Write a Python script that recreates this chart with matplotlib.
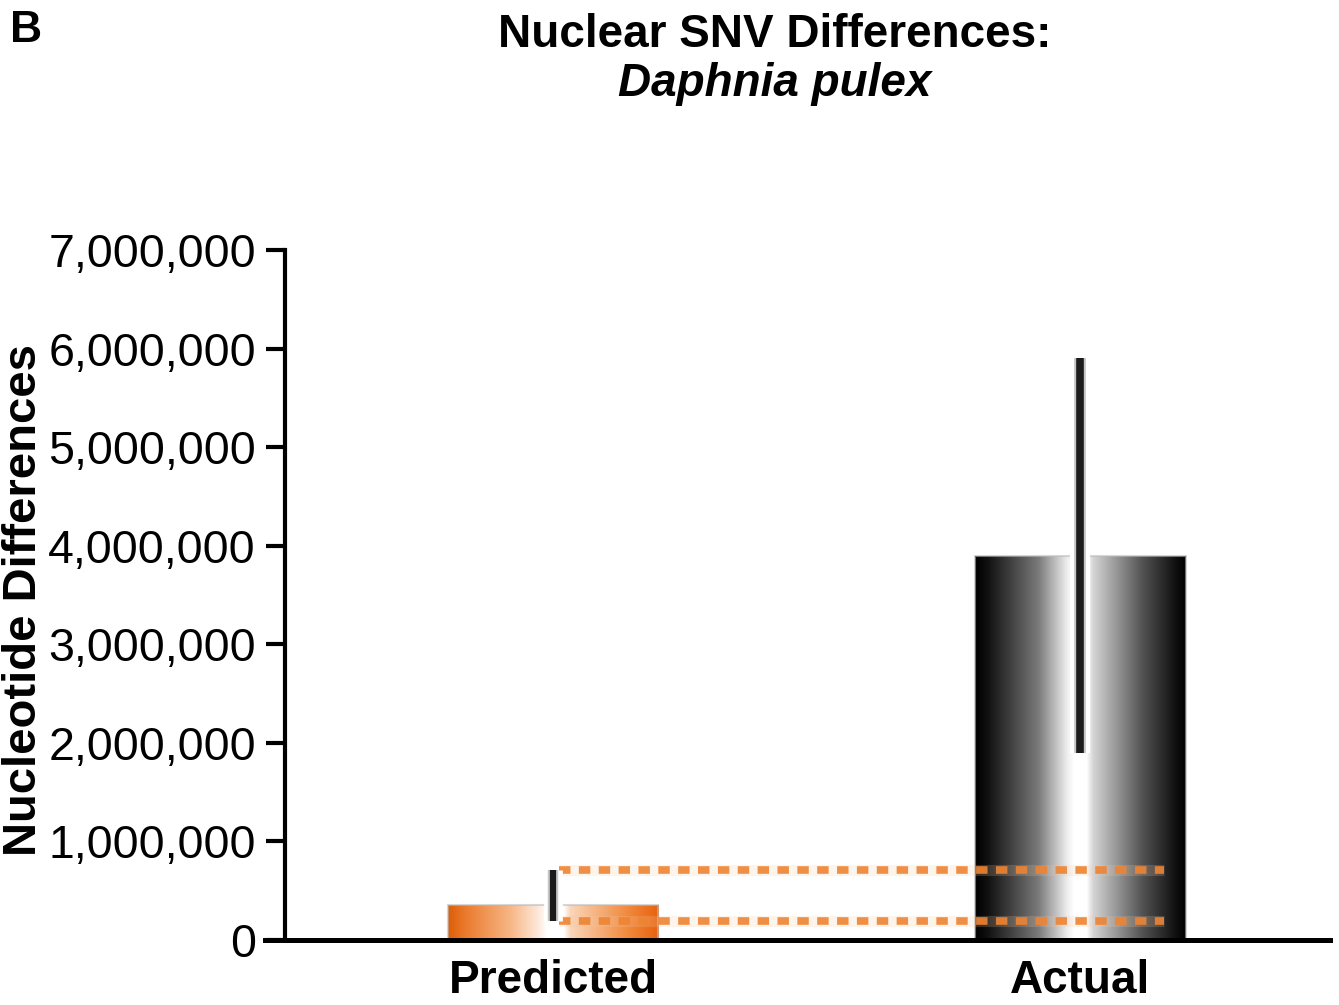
import numpy as np
import matplotlib
matplotlib.use("Agg")
import matplotlib.pyplot as plt
from matplotlib.colors import to_rgb
from matplotlib.ticker import FuncFormatter

# ---- data ----
categories = ["Predicted", "Actual"]
mean_snv = [360000, 3900000]          # bar heights
err_low = [190000, 1900000]           # lower end of error bar
err_high = [710000, 5900000]          # upper end of error bar
y_ticks = [0, 1000000, 2000000, 3000000, 4000000, 5000000, 6000000, 7000000]

# ---- styling ----
BAR_WIDTH = 0.4
orange_stops = [(0.0, "#DD5E08"), (0.08, "#EB7A2C"), (0.30, "#F7B888"),
                (0.43, "#FDEADB"), (0.47, "#FFFFFF"), (0.55, "#FFFFFF"),
                (0.58, "#FAD6BA"), (0.85, "#F18A3E"), (1.0, "#E8620E")]
gray_stops = [(0.0, "#000000"), (0.06, "#111111"), (0.30, "#7A7A7A"),
              (0.44, "#F0F0F0"), (0.47, "#FFFFFF"), (0.53, "#FFFFFF"),
              (0.56, "#D5D5D5"), (0.80, "#505050"), (0.95, "#111111"),
              (1.0, "#000000")]


def gradient_image(stops, n=256):
    pos = np.array([s[0] for s in stops])
    cols = np.array([to_rgb(s[1]) for s in stops])
    t = np.linspace(0, 1, n)
    rgb = np.stack([np.interp(t, pos, cols[:, k]) for k in range(3)], axis=-1)
    return rgb[np.newaxis, :, :]


FONT = ["Liberation Sans", "DejaVu Sans"]

fig = plt.figure(figsize=(13.39, 10.05), dpi=100)
ax = fig.add_axes([265 / 1339, 1 - 940 / 1005, 1065 / 1339, 690 / 1005])

x = np.arange(len(categories))
ax.set_xlim(-0.5465, 1.474)
ax.set_ylim(0, 7000000)

bars = ax.bar(x, mean_snv, width=BAR_WIDTH, color="none", edgecolor="none", zorder=2)

# shaded fills clipped to each bar
for patch, stops in zip(bars.patches, [orange_stops, gray_stops]):
    x0, w, h = patch.get_x(), patch.get_width(), patch.get_height()
    im = ax.imshow(gradient_image(stops), extent=(x0, x0 + w, 0, h),
                   aspect="auto", origin="lower", zorder=2, interpolation="bilinear")
    im.set_clip_path(patch)
    ax.add_patch(plt.Rectangle((x0, 0), w, h, fill=False, edgecolor="#BBBBBB",
                               linewidth=1.5, alpha=0.6, zorder=2.1))

# dotted guide lines spanning the predicted range across to the actual bar
x_start = x[0] + 0.012
x_end = x[1] + BAR_WIDTH * 0.4
for yv in (err_low[0], err_high[0]):
    ax.plot([x_start, x_end], [yv, yv], color="#F5C9A4", linewidth=8,
            alpha=0.2, solid_capstyle="butt", zorder=3)
    ax.plot([x_start, x_end], [yv, yv], color="#EE8433", linewidth=5.5,
            linestyle=(0, (1.5, 1.1)), dash_capstyle="butt", alpha=0.9, zorder=3.1)

# error bars
for xi, lo, hi, lw in zip(x, err_low, err_high, [4.5, 5.5]):
    ax.plot([xi, xi], [lo, hi], color="#FFFFFF", linewidth=lw + 9,
            solid_capstyle="butt", zorder=4)
    ax.plot([xi, xi], [lo, hi], color="#A0A0A0", linewidth=lw + 3,
            solid_capstyle="butt", alpha=0.6, zorder=4.1)
    ax.plot([xi, xi], [lo, hi], color="#1C1C1C", linewidth=lw,
            solid_capstyle="butt", zorder=4.2)

# axes styling
for side in ("top", "right"):
    ax.spines[side].set_visible(False)
ax.spines["left"].set_position(("axes", 20 / 1065))
ax.spines["left"].set_linewidth(3.0)
ax.spines["bottom"].set_linewidth(3.6)
ax.spines["left"].set_zorder(5)
ax.spines["bottom"].set_zorder(5)

ax.set_yticks(y_ticks)
ax.yaxis.set_major_formatter(FuncFormatter(lambda v, p: f"{int(v):,}"))
ax.tick_params(axis="y", length=14, width=3.0, pad=7, labelsize=33.5, colors="black")
for lab in ax.get_yticklabels():
    lab.set_family(FONT)

ax.set_xticks(x)
ax.set_xticklabels(categories)
ax.tick_params(axis="x", length=0, pad=14)
for lab in ax.get_xticklabels():
    lab.set_family(FONT)
    lab.set_fontsize(33)
    lab.set_fontweight("bold")

ax.set_ylabel("Nucleotide Differences", family=FONT, fontsize=34,
              fontweight="bold")
ax.yaxis.set_label_coords(-0.206, 0.493)

# titles
fig.text(775 / 1339, 1 - 35 / 1005, "Nuclear SNV Differences:", ha="center",
         va="center", fontsize=33, fontweight="bold", family=FONT)
fig.text(775 / 1339, 1 - 84 / 1005, "Daphnia pulex", ha="center", va="center",
         fontsize=33, fontweight="bold", style="italic", family=FONT)
fig.text(10 / 1339, 1 - 30 / 1005, "B", ha="left", va="center", fontsize=32,
         fontweight="bold", family=FONT)

fig.savefig("out.png", dpi=100, facecolor="white")
